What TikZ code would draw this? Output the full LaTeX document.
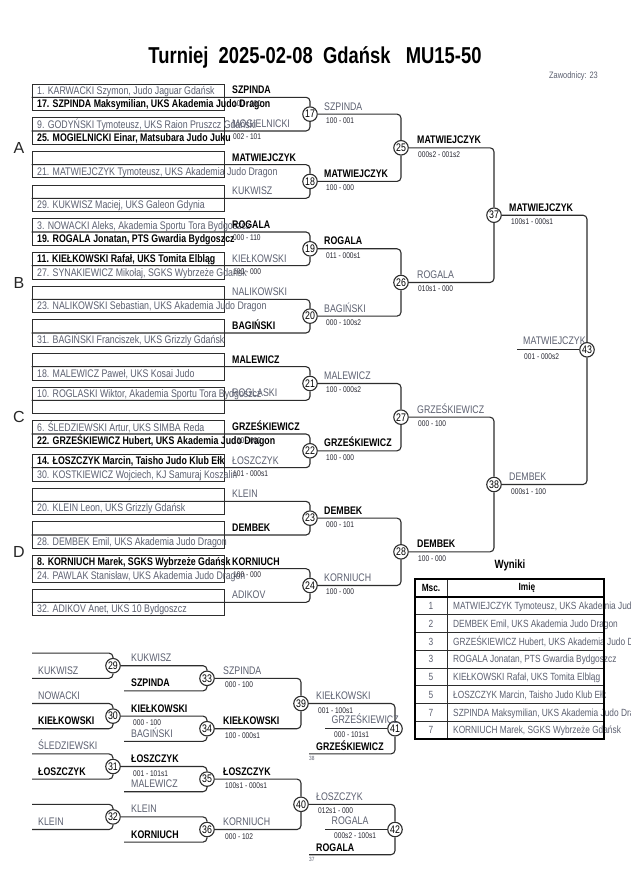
\documentclass[tikz,border=0pt]{standalone}
\usepackage{fontspec}
\setmainfont{Liberation Sans}[FakeStretch=0.8]
\newfontfamily\plainsans{Liberation Sans}
\definecolor{linec}{RGB}{45,45,45}
\definecolor{grayc}{RGB}{92,96,112}
\definecolor{scorec}{RGB}{40,40,50}
\newcommand{\fsz}[1]{\fontsize{#1}{#1}\selectfont}
\tikzset{
 conn/.style={draw=linec, line width=1.1pt, rounded corners=4pt},
 boxn/.style={draw=linec, line width=0.9pt, minimum width=192pt, minimum height=26.6pt, inner sep=0pt},
 circ/.style={circle, draw=linec, line width=1.1pt, fill=white, minimum size=14.5pt, inner sep=0pt, font=\fsz{11}},
 gn/.style={anchor=base west, inner sep=0pt, text=grayc, font=\fsz{11}},
 bn/.style={anchor=base west, inner sep=0pt, text=black, font=\bfseries\fsz{11}},
 sc/.style={anchor=base west, inner sep=0pt, text=scorec, font=\fsz{8.25}},
 tinyn/.style={anchor=base west, inner sep=0pt, text=grayc, font=\fsz{6}},
 tnum/.style={anchor=base, inner sep=0pt, text=grayc, font=\fsz{10.4}},
 tname/.style={anchor=base west, inner sep=0pt, text=grayc, font=\fsz{10.4}},
 letter/.style={inner sep=0pt, text=black!85, font=\plainsans\fsz{16}},
}
\newcommand{\ent}[4]{\node[#3] (e#1-#2) at (37,{84+33.67*#1+13.3*(#2-1)+10.6}) {#4};}
\newcommand{\flab}[3]{\node[#2] (fl#1) at (232,{97.3+33.67*#1-3.6}) {#3};}
\newcommand{\fsc}[2]{\node[sc] (fs#1) at (233,{97.3+33.67*#1+9}) {#2};}
\newcommand{\olab}[4]{\node[#3] (n#1) at ([xshift=#2pt,yshift=4pt]m#1.center) {#4};}
\newcommand{\osc}[3]{\node[sc] (s#1) at ([xshift=#2pt,yshift=-9.5pt]m#1.center) {#3};}
\begin{document}
\begin{tikzpicture}[x=1pt,y=-1pt]
\useasboundingbox (0,0) rectangle (630,891);
\fill[white] (0,0) rectangle (630,891);

% title
\node[font=\bfseries\fsz{23}, inner sep=0pt] (title) at (315,57) {Turniej~~2025-02-08~~Gdańsk~~~MU15-50};
\node[anchor=east, inner sep=0pt, font=\fsz{9.3}, text=grayc] (zaw) at (598,76) {Zawodnicy: 23};

% group letters
\node[letter] (gA) at (19,148) {A};
\node[letter] (gB) at (19,282.5) {B};
\node[letter] (gC) at (19,417) {C};
\node[letter] (gD) at (19,552) {D};

% first round boxes
\foreach \i in {0,...,15} \node[boxn] (b\i) at (128,{97.3+33.67*\i}) {};

% main bracket circles
\foreach \k in {0,...,7} {\pgfmathtruncatemacro\n{17+\k}\node[circ] (m\n) at (310,{114.1+67.34*\k}) {\n};}
\foreach \j in {0,...,3} {\pgfmathtruncatemacro\n{25+\j}\node[circ] (m\n) at (401,{147.8+134.68*\j}) {\n};}
\node[circ] (m37) at (494,215.2) {37};
\node[circ] (m38) at (494,484.5) {38};
\node[circ] (m43) at (587,349.8) {43};
\coordinate (fin) at (517,349.8);

% connectors main
\foreach \i/\n/\a in {0/17/north,1/17/south,2/18/north,3/18/south,4/19/north,5/19/south,6/20/north,7/20/south,8/21/north,9/21/south,10/22/north,11/22/south,12/23/north,13/23/south,14/24/north,15/24/south}
  \draw[conn] (b\i.west) -- (b\i.west -| m\n) -- (m\n.\a);
\foreach \s/\n/\a in {17/25/north,18/25/south,19/26/north,20/26/south,21/27/north,22/27/south,23/28/north,24/28/south,25/37/north,26/37/south,27/38/north,28/38/south,37/43/north,38/43/south}
  \draw[conn] (m\s.east) -- (m\s.east -| m\n) -- (m\n.\a);
\draw[conn] (m43.west) -- (fin);

% box entries
\ent{0}{1}{gn}{1. KARWACKI Szymon, Judo Jaguar Gdańsk}
\ent{0}{2}{bn}{17. SZPINDA Maksymilian, UKS Akademia Judo Dragon}
\ent{1}{1}{gn}{9. GODYŃSKI Tymoteusz, UKS Raion Pruszcz Gdański}
\ent{1}{2}{bn}{25. MOGIELNICKI Einar, Matsubara Judo Juku}
\ent{2}{2}{gn}{21. MATWIEJCZYK Tymoteusz, UKS Akademia Judo Dragon}
\ent{3}{2}{gn}{29. KUKWISZ Maciej, UKS Galeon Gdynia}
\ent{4}{1}{gn}{3. NOWACKI Aleks, Akademia Sportu Tora Bydgoszcz}
\ent{4}{2}{bn}{19. ROGALA Jonatan, PTS Gwardia Bydgoszcz}
\ent{5}{1}{bn}{11. KIEŁKOWSKI Rafał, UKS Tomita Elbląg}
\ent{5}{2}{gn}{27. SYNAKIEWICZ Mikołaj, SGKS Wybrzeże Gdańsk}
\ent{6}{2}{gn}{23. NALIKOWSKI Sebastian, UKS Akademia Judo Dragon}
\ent{7}{2}{gn}{31. BAGIŃSKI Franciszek, UKS Grizzly Gdańsk}
\ent{8}{2}{gn}{18. MALEWICZ Paweł, UKS Kosai Judo}
\ent{9}{1}{gn}{10. ROGLASKI Wiktor, Akademia Sportu Tora Bydgoszcz}
\ent{10}{1}{gn}{6. ŚLEDZIEWSKI Artur, UKS SIMBA Reda}
\ent{10}{2}{bn}{22. GRZEŚKIEWICZ Hubert, UKS Akademia Judo Dragon}
\ent{11}{1}{bn}{14. ŁOSZCZYK Marcin, Taisho Judo Klub Ełk}
\ent{11}{2}{gn}{30. KOSTKIEWICZ Wojciech, KJ Samuraj Koszalin}
\ent{12}{2}{gn}{20. KLEIN Leon, UKS Grizzly Gdańsk}
\ent{13}{2}{gn}{28. DEMBEK Emil, UKS Akademia Judo Dragon}
\ent{14}{1}{bn}{8. KORNIUCH Marek, SGKS Wybrzeże Gdańsk}
\ent{14}{2}{gn}{24. PAWLAK Stanisław, UKS Akademia Judo Dragon}
\ent{15}{2}{gn}{32. ADIKOV Anet, UKS 10 Bydgoszcz}

% first column labels
\flab{0}{bn}{SZPINDA}\fsc{0}{100 - 000}
\flab{1}{gn}{MOGIELNICKI}\fsc{1}{002 - 101}
\flab{2}{bn}{MATWIEJCZYK}
\flab{3}{gn}{KUKWISZ}
\flab{4}{bn}{ROGALA}\fsc{4}{000 - 110}
\flab{5}{gn}{KIEŁKOWSKI}\fsc{5}{100 - 000}
\flab{6}{gn}{NALIKOWSKI}
\flab{7}{bn}{BAGIŃSKI}
\flab{8}{bn}{MALEWICZ}
\flab{9}{gn}{ROGLASKI}
\flab{10}{bn}{GRZEŚKIEWICZ}\fsc{10}{100 - 000}
\flab{11}{gn}{ŁOSZCZYK}\fsc{11}{101 - 000s1}
\flab{12}{gn}{KLEIN}
\flab{13}{bn}{DEMBEK}
\flab{14}{bn}{KORNIUCH}\fsc{14}{100 - 000}
\flab{15}{gn}{ADIKOV}

% later round labels
\olab{17}{14}{gn}{SZPINDA}\osc{17}{16}{100 - 001}
\olab{18}{14}{bn}{MATWIEJCZYK}\osc{18}{16}{100 - 000}
\olab{19}{14}{bn}{ROGALA}\osc{19}{16}{011 - 000s1}
\olab{20}{14}{gn}{BAGIŃSKI}\osc{20}{16}{000 - 100s2}
\olab{21}{14}{gn}{MALEWICZ}\osc{21}{16}{100 - 000s2}
\olab{22}{14}{bn}{GRZEŚKIEWICZ}\osc{22}{16}{100 - 000}
\olab{23}{14}{bn}{DEMBEK}\osc{23}{16}{000 - 101}
\olab{24}{14}{gn}{KORNIUCH}\osc{24}{16}{100 - 000}
\olab{25}{16}{bn}{MATWIEJCZYK}\osc{25}{17}{000s2 - 001s2}
\olab{26}{16}{gn}{ROGALA}\osc{26}{17}{010s1 - 000}
\olab{27}{16}{gn}{GRZEŚKIEWICZ}\osc{27}{17}{000 - 100}
\olab{28}{16}{bn}{DEMBEK}\osc{28}{17}{100 - 000}
\olab{37}{15}{bn}{MATWIEJCZYK}\osc{37}{17}{100s1 - 000s1}
\olab{38}{15}{gn}{DEMBEK}\osc{38}{17}{000s1 - 100}
\node[gn] (n43) at ([xshift=-64pt,yshift=5pt]m43.center) {MATWIEJCZYK};
\node[sc] (s43) at ([xshift=-63pt,yshift=-9.5pt]m43.center) {001 - 000s2};

% ===== repechage =====
\foreach \j in {0,...,3} {\pgfmathtruncatemacro\n{29+\j}\node[circ] (m\n) at (113,{665.7+50.4*\j}) {\n};
  \coordinate (u\n) at (32,{665.7+50.4*\j-12.6});
  \coordinate (l\n) at (32,{665.7+50.4*\j+12.6});}
\foreach \j in {0,...,3} {\pgfmathtruncatemacro\n{33+\j}\node[circ] (m\n) at (207,{678.3+50.4*\j}) {\n};
  \coordinate (q\n) at (124,{678.3+50.4*\j+12.6});}
\node[circ] (m39) at (301,703.5) {39};
\node[circ] (m40) at (301,804.3) {40};
\node[circ] (m41) at (395,728.7) {41};
\node[circ] (m42) at (395,829.5) {42};
\coordinate (mid41) at (325,728.7);
\coordinate (bot41) at (309,753.9);
\coordinate (mid42) at (325,829.5);
\coordinate (bot42) at (309,854.7);

\foreach \n in {29,...,32} {
  \draw[conn] (u\n) -- (u\n -| m\n) -- (m\n.north);
  \draw[conn] (l\n) -- (l\n -| m\n) -- (m\n.south);}
\foreach \n in {33,...,36}
  \draw[conn] (q\n) -- (q\n -| m\n) -- (m\n.south);
\foreach \s/\n/\a in {29/33/north,30/34/north,31/35/north,32/36/north,33/39/north,34/39/south,35/40/north,36/40/south,39/41/north,40/42/north}
  \draw[conn] (m\s.east) -- (m\s.east -| m\n) -- (m\n.\a);
\foreach \n in {41,42} {
  \draw[conn] (mid\n) -- (m\n.west);
  \draw[conn] (bot\n) -- (bot\n -| m\n) -- (m\n.south);}

% repechage labels
\node[gn] (ru30) at ([xshift=6pt,yshift=4pt]u30) {NOWACKI};
\node[gn] (ru31) at ([xshift=6pt,yshift=4pt]u31) {ŚLEDZIEWSKI};
\node[gn] (rl29) at ([xshift=6pt,yshift=4pt]l29) {KUKWISZ};
\node[bn] (rl30) at ([xshift=6pt,yshift=4pt]l30) {KIEŁKOWSKI};
\node[bn] (rl31) at ([xshift=6pt,yshift=4pt]l31) {ŁOSZCZYK};
\node[gn] (rl32) at ([xshift=6pt,yshift=4pt]l32) {KLEIN};
\olab{29}{18}{gn}{KUKWISZ}
\olab{30}{18}{bn}{KIEŁKOWSKI}\osc{30}{20}{000 - 100}
\olab{31}{18}{bn}{ŁOSZCZYK}\osc{31}{20}{001 - 101s1}
\olab{32}{18}{gn}{KLEIN}
\node[bn] (rq33) at ([xshift=7pt,yshift=4pt]q33) {SZPINDA};
\node[gn] (rq34) at ([xshift=7pt,yshift=4pt]q34) {BAGIŃSKI};
\node[gn] (rq35) at ([xshift=7pt,yshift=4pt]q35) {MALEWICZ};
\node[bn] (rq36) at ([xshift=7pt,yshift=4pt]q36) {KORNIUCH};
\olab{33}{16}{gn}{SZPINDA}\osc{33}{18}{000 - 100}
\olab{34}{16}{bn}{KIEŁKOWSKI}\osc{34}{18}{100 - 000s1}
\olab{35}{16}{bn}{ŁOSZCZYK}\osc{35}{18}{100s1 - 000s1}
\olab{36}{16}{gn}{KORNIUCH}\osc{36}{18}{000 - 102}
\olab{39}{15}{gn}{KIEŁKOWSKI}\osc{39}{17}{001 - 100s1}
\olab{40}{15}{gn}{ŁOSZCZYK}\osc{40}{17}{012s1 - 000}
\node[gn] (lm41) at ([xshift=6.5pt,yshift=5pt]mid41) {GRZEŚKIEWICZ};
\node[sc] (sm41) at ([xshift=9pt,yshift=-9pt]mid41) {000 - 101s1};
\node[bn] (lb41) at ([xshift=7pt,yshift=3.6pt]bot41) {GRZEŚKIEWICZ};
\node[tinyn] (tb41) at ([yshift=-6.5pt]bot41) {38};
\node[gn] (lm42) at ([xshift=6.5pt,yshift=5pt]mid42) {ROGALA};
\node[sc] (sm42) at ([xshift=9pt,yshift=-9pt]mid42) {000s2 - 100s1};
\node[bn] (lb42) at ([xshift=7pt,yshift=3.6pt]bot42) {ROGALA};
\node[tinyn] (tb42) at ([yshift=-6.5pt]bot42) {37};

% ===== results table =====
\node[inner sep=0pt, font=\bfseries\fsz{12}] (wyn) at (510,565.5) {Wyniki};
\node[inner sep=0pt, font=\bfseries\fsz{10.4}] (hmsc) at (431,588) {Msc.};
\node[inner sep=0pt, font=\bfseries\fsz{10.4}] (himie) at (527,588) {Imię};
\node[tnum] (t1) at (431,609.6) {1}; \node[tname] (tn1) at (453,609.6) {MATWIEJCZYK Tymoteusz, UKS Akademia Judo Dragon};
\node[tnum] (t2) at (431,627.3) {2}; \node[tname] (tn2) at (453,627.3) {DEMBEK Emil, UKS Akademia Judo Dragon};
\node[tnum] (t3) at (431,645.1) {3}; \node[tname] (tn3) at (453,645.1) {GRZEŚKIEWICZ Hubert, UKS Akademia Judo Dragon};
\node[tnum] (t4) at (431,662.8) {3}; \node[tname] (tn4) at (453,662.8) {ROGALA Jonatan, PTS Gwardia Bydgoszcz};
\node[tnum] (t5) at (431,680.6) {5}; \node[tname] (tn5) at (453,680.6) {KIEŁKOWSKI Rafał, UKS Tomita Elbląg};
\node[tnum] (t6) at (431,698.3) {5}; \node[tname] (tn6) at (453,698.3) {ŁOSZCZYK Marcin, Taisho Judo Klub Ełk};
\node[tnum] (t7) at (431,716.1) {7}; \node[tname] (tn7) at (453,716.1) {SZPINDA Maksymilian, UKS Akademia Judo Dragon};
\node[tnum] (t8) at (431,733.8) {7}; \node[tname] (tn8) at (453,733.8) {KORNIUCH Marek, SGKS Wybrzeże Gdańsk};
\foreach \k in {1,...,7} \draw[linec, line width=0.8pt] (415,{597+17.75*\k}) -- (604,{597+17.75*\k});
\draw[linec, line width=0.8pt] (447,579) -- (447,739);
\draw[black, line width=1.5pt] (415,597) -- (604,597);
\draw[black, line width=1.8pt] (415,579) rectangle (604,739);
\end{tikzpicture}
\end{document}
